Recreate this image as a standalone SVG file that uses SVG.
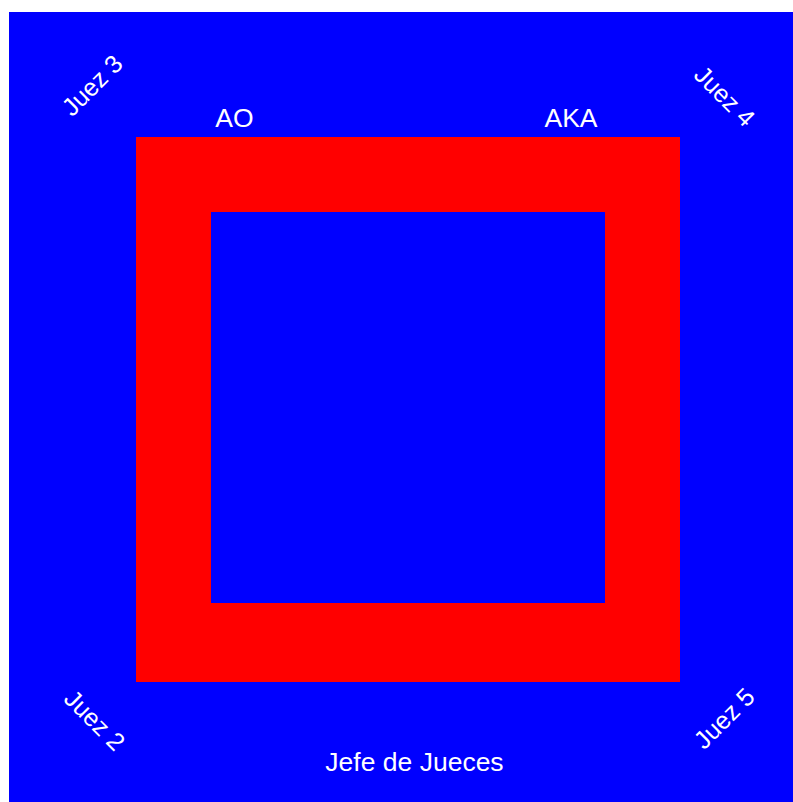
<svg xmlns="http://www.w3.org/2000/svg" width="793" height="802" viewBox="0 0 793 802">
<style>
.t{font-family:"Liberation Sans",Arial,sans-serif;font-size:26.5px;fill:#ffffff;text-anchor:middle}
.r{font-size:25px}
</style>
<rect x="0" y="0" width="793" height="802" fill="#ffffff"/>
<g id="mat">
<rect x="9" y="12" width="784" height="790" fill="#0000ff"/>
<rect x="136" y="137" width="544" height="545" fill="#ff0000"/>
<rect x="211" y="212" width="394" height="391" fill="#0000ff"/>
</g>
<g id="ao"><text class="t" x="234.5" y="127">AO</text></g>
<g id="aka"><text class="t" x="571" y="127">AKA</text></g>
<g id="jefe"><text class="t" x="414.5" y="771">Jefe de Jueces</text></g>
<g id="juez3"><text class="t r" transform="translate(92,85) rotate(-45)" x="0" y="9">Juez 3</text></g>
<g id="juez4"><text class="t r" transform="translate(725,96) rotate(45)" x="0" y="9">Juez 4</text></g>
<g id="juez2"><text class="t r" transform="translate(95,720) rotate(45)" x="0" y="9">Juez 2</text></g>
<g id="juez5"><text class="t r" transform="translate(724,718) rotate(-45)" x="0" y="9">Juez 5</text></g>
<g id="connectors"></g>
</svg>
